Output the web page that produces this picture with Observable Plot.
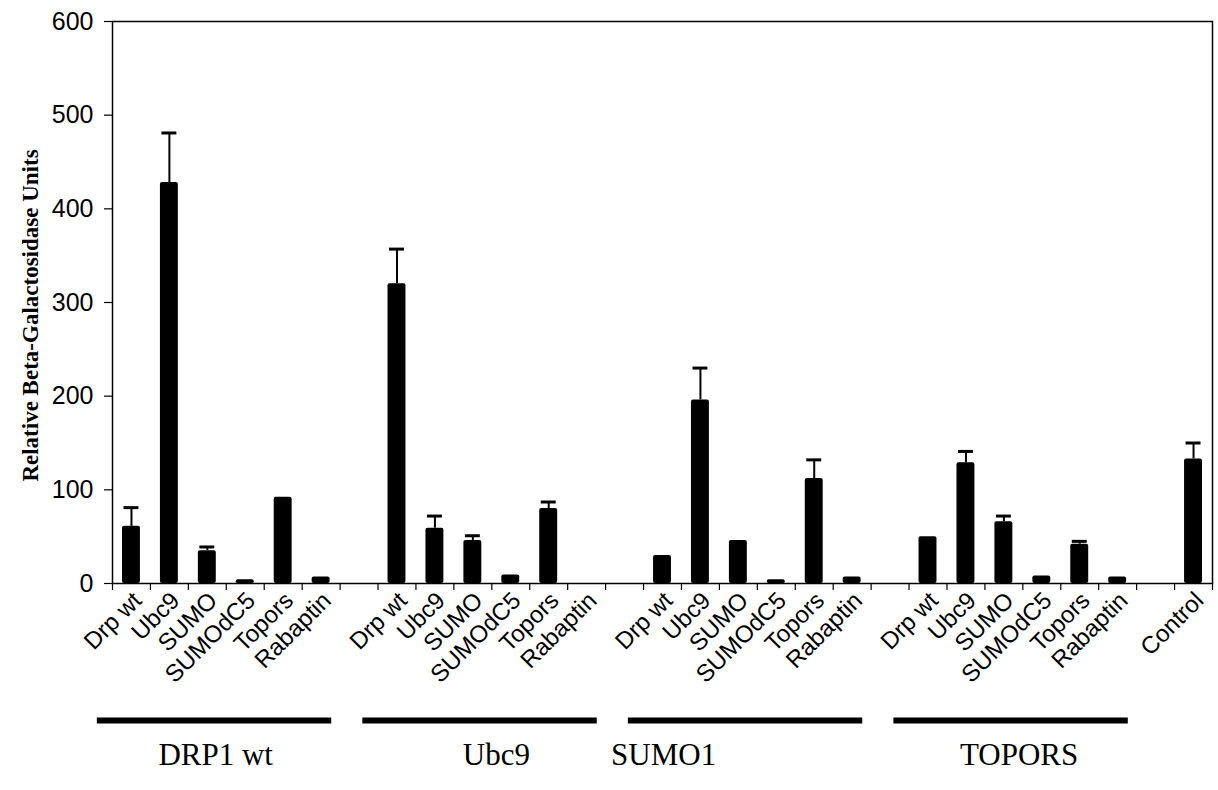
<!DOCTYPE html>
<html>
<head>
<meta charset="utf-8">
<script src="https://cdn.jsdelivr.net/npm/d3@7"></script>
<script src="https://cdn.jsdelivr.net/npm/@observablehq/plot@0.6"></script>
<style>
  html, body { margin: 0; padding: 0; background: #fff; }
  #chart svg { display: block; }
</style>
</head>
<body>
<div id="chart"></div>
<script>
// ---- data ----
const groups = ["DRP1 wt", "Ubc9", "SUMO1", "TOPORS"];
const preys = ["Drp wt", "Ubc9", "SUMO", "SUMOdC5", "Topors", "Rabaptin"];

const drp1Values   = [61, 428, 35, 4, 92, 7];
const drp1Errors   = [81, 481, 39, null, null, null];
const ubc9Values   = [320, 59, 46, 9, 80, 0];
const ubc9Errors   = [357, 72, 51, null, 87, null];
const sumo1Values  = [30, 196, 46, 4, 112, 7];
const sumo1Errors  = [null, 230, null, null, 132, null];
const toporsValues = [50, 129, 66, 8, 42, 7];
const toporsErrors = [null, 141, 72, null, 45, null];
const controlLabel = "Control";
const controlValue = 133;
const controlError = 150;

const yTicks = [0, 100, 200, 300, 400, 500, 600];
const yTitle = "Relative Beta-Galactosidase Units";

// ---- build table ----
const groupValues = [drp1Values, ubc9Values, sumo1Values, toporsValues];
const groupErrors = [drp1Errors, ubc9Errors, sumo1Errors, toporsErrors];
const slotsPerGroup = preys.length + 1;
const rows = [];
groups.forEach((g, gi) => {
  preys.forEach((p, pi) => {
    rows.push({group: g, label: p, slot: gi * slotsPerGroup + pi,
               value: groupValues[gi][pi], err: groupErrors[gi][pi]});
  });
});
rows.push({group: null, label: controlLabel, slot: groups.length * slotsPerGroup,
           value: controlValue, err: controlError});
const nSlots = groups.length * slotsPerGroup + 1;
const errRows = rows.filter(d => d.err != null);

const groupRows = groups.map((g, gi) => ({name: g, first: gi * slotsPerGroup}));
// label horizontal placement (in slot units from each group's first slot)
const labelShift = [2.72, 3.12, 0.53, 2.9];

const serif = "'Liberation Serif', 'Times New Roman', Times, serif";
const sans = "'Liberation Sans', Arial, Helvetica, sans-serif";

const chart = Plot.plot({
  width: 1218,
  height: 790,
  marginLeft: 112,
  marginRight: 6,
  marginTop: 21,
  marginBottom: 207,
  style: {fontFamily: sans, fontSize: "24px", color: "#000", background: "#fff"},
  x: {type: "linear", domain: [0, nSlots], axis: null},
  y: {domain: [0, 600], axis: null},
  marks: [
    Plot.frame({stroke: "#000", strokeWidth: 1.5}),
    Plot.axisY({ticks: yTicks, tickSize: 8, tickPadding: 11, fontSize: 25, fontFamily: sans, label: null, strokeWidth: 1.2}),
    Plot.axisX({ticks: d3.range(0, nSlots + 1), tickFormat: () => "", tickSize: 7, label: null, strokeWidth: 1.2}),
    Plot.rectY(rows, {x1: "slot", x2: d => d.slot + 1, y1: 0, y2: "value", fill: "#000",
                      insetLeft: 10, insetRight: 10, rx: 2}),
    Plot.ruleX(errRows, {x: d => d.slot + 0.5, y1: "value", y2: "err", stroke: "#000", strokeWidth: 2}),
    Plot.ruleY(errRows, {y: "err", x1: "slot", x2: d => d.slot + 1, insetLeft: 11.5, insetRight: 11.5,
                         stroke: "#000", strokeWidth: 3}),
    Plot.text(rows, {x: d => d.slot + 0.5, y: 0, text: "label", rotate: -45, textAnchor: "end",
                     dx: 6, dy: 13, fontSize: 24, fontFamily: sans, fill: "#000"}),
    Plot.ruleY(groupRows, {y: 0, x1: d => d.first - 0.4, x2: d => d.first + 5.78, dy: 137,
                           stroke: "#000", strokeWidth: 6}),
    Plot.text(groupRows, {x: (d, i) => d.first + labelShift[i], y: 0, text: "name", dy: 172,
                          fontSize: 31, fontFamily: serif, fill: "#000"}),
    Plot.text([yTitle], {frameAnchor: "left", textAnchor: "middle", rotate: -90, dx: -82, dy: 13,
                         fontSize: 23, fontWeight: "bold", fontFamily: serif, fill: "#000"})
  ]
});
document.getElementById("chart").appendChild(chart);
</script>
</body>
</html>
